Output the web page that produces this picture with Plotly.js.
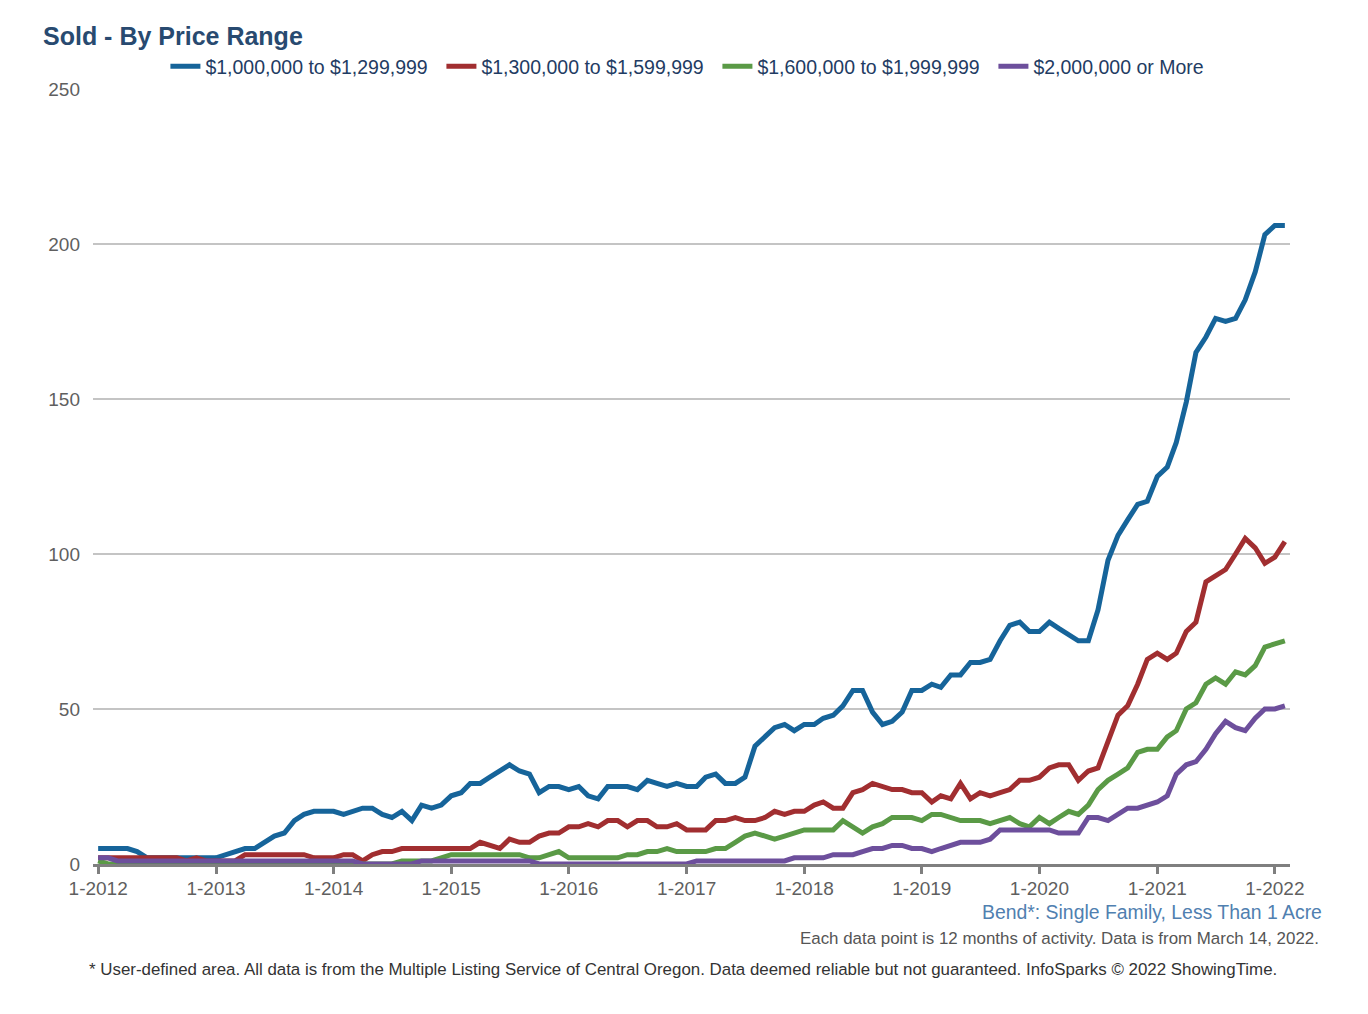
<!DOCTYPE html>
<html>
<head>
<meta charset="utf-8">
<script src="https://cdn.plot.ly/plotly-3.0.1.min.js"></script>
<style>
html,body{margin:0;padding:0;background:#ffffff;}
#chart{width:1368px;height:1014px;}
</style>
</head>
<body>
<div id="chart"></div>
<script>
// Months (x categories), Jan 2012 .. Feb 2022
const months = [
  '2012-01-01','2012-02-01','2012-03-01','2012-04-01','2012-05-01','2012-06-01','2012-07-01','2012-08-01','2012-09-01','2012-10-01','2012-11-01','2012-12-01',
  '2013-01-01','2013-02-01','2013-03-01','2013-04-01','2013-05-01','2013-06-01','2013-07-01','2013-08-01','2013-09-01','2013-10-01','2013-11-01','2013-12-01',
  '2014-01-01','2014-02-01','2014-03-01','2014-04-01','2014-05-01','2014-06-01','2014-07-01','2014-08-01','2014-09-01','2014-10-01','2014-11-01','2014-12-01',
  '2015-01-01','2015-02-01','2015-03-01','2015-04-01','2015-05-01','2015-06-01','2015-07-01','2015-08-01','2015-09-01','2015-10-01','2015-11-01','2015-12-01',
  '2016-01-01','2016-02-01','2016-03-01','2016-04-01','2016-05-01','2016-06-01','2016-07-01','2016-08-01','2016-09-01','2016-10-01','2016-11-01','2016-12-01',
  '2017-01-01','2017-02-01','2017-03-01','2017-04-01','2017-05-01','2017-06-01','2017-07-01','2017-08-01','2017-09-01','2017-10-01','2017-11-01','2017-12-01',
  '2018-01-01','2018-02-01','2018-03-01','2018-04-01','2018-05-01','2018-06-01','2018-07-01','2018-08-01','2018-09-01','2018-10-01','2018-11-01','2018-12-01',
  '2019-01-01','2019-02-01','2019-03-01','2019-04-01','2019-05-01','2019-06-01','2019-07-01','2019-08-01','2019-09-01','2019-10-01','2019-11-01','2019-12-01',
  '2020-01-01','2020-02-01','2020-03-01','2020-04-01','2020-05-01','2020-06-01','2020-07-01','2020-08-01','2020-09-01','2020-10-01','2020-11-01','2020-12-01',
  '2021-01-01','2021-02-01','2021-03-01','2021-04-01','2021-05-01','2021-06-01','2021-07-01','2021-08-01','2021-09-01','2021-10-01','2021-11-01','2021-12-01',
  '2022-01-01','2022-02-01'
];

const seriesNames = [
  '$1,000,000 to $1,299,999',
  '$1,300,000 to $1,599,999',
  '$1,600,000 to $1,999,999',
  '$2,000,000 or More'
];

const sold1000to1299 = [
  5,5,5,5,4,2,2,2,2,2,2,2,
  2,3,4,5,5,7,9,10,14,16,17,17,
  17,16,17,18,18,16,15,17,14,19,18,19,
  22,23,26,26,28,30,32,30,29,23,25,25,
  24,25,22,21,25,25,25,24,27,26,25,26,
  25,25,28,29,26,26,28,38,41,44,45,43,
  45,45,47,48,51,56,56,49,45,46,49,56,
  56,58,57,61,61,65,65,66,72,77,78,75,
  75,78,76,74,72,72,82,98,106,111,116,117,
  125,128,136,149,165,170,176,175,176,182,191,203,
  206,206
];

const sold1300to1599 = [
  2,2,2,2,2,2,2,2,2,1,2,1,
  1,1,1,3,3,3,3,3,3,3,2,2,
  2,3,3,1,3,4,4,5,5,5,5,5,
  5,5,5,7,6,5,8,7,7,9,10,10,
  12,12,13,12,14,14,12,14,14,12,12,13,
  11,11,11,14,14,15,14,14,15,17,16,17,
  17,19,20,18,18,23,24,26,25,24,24,23,
  23,20,22,21,26,21,23,22,23,24,27,27,
  28,31,32,32,27,30,31,40,48,51,58,66,
  68,66,68,75,78,91,93,95,100,105,102,97,
  99,104
];

const sold1600to1999 = [
  1,0,0,0,0,0,0,0,0,0,0,0,
  0,0,0,0,0,0,0,0,0,0,0,0,
  0,0,0,0,0,0,0,1,1,1,1,2,
  3,3,3,3,3,3,3,3,2,2,3,4,
  2,2,2,2,2,2,3,3,4,4,5,4,
  4,4,4,5,5,7,9,10,9,8,9,10,
  11,11,11,11,14,12,10,12,13,15,15,15,
  14,16,16,15,14,14,14,13,14,15,13,12,
  15,13,15,17,16,19,24,27,29,31,36,37,
  37,41,43,50,52,58,60,58,62,61,64,70,
  71,72
];

const sold2000plus = [
  2,2,1,1,1,1,1,1,1,1,1,1,
  1,1,1,1,1,1,1,1,1,1,1,1,
  1,1,1,0,0,0,0,0,0,1,1,1,
  1,1,1,1,1,1,1,1,1,0,0,0,
  0,0,0,0,0,0,0,0,0,0,0,0,
  0,1,1,1,1,1,1,1,1,1,1,2,
  2,2,2,3,3,3,4,5,5,6,6,5,
  5,4,5,6,7,7,7,8,11,11,11,11,
  11,11,10,10,10,15,15,14,16,18,18,19,
  20,22,29,32,33,37,42,46,44,43,47,50,
  50,51
];

const seriesValues = [sold1000to1299, sold1300to1599, sold1600to1999, sold2000plus];
const seriesColors = ['#16649a', '#a12e30', '#5a9a46', '#6d4f9c'];

const FONT = '"Liberation Sans", Arial, Helvetica, sans-serif';

const traces = seriesValues.map((vals, i) => ({
  type: 'scatter',
  mode: 'lines',
  name: seriesNames[i],
  x: months,
  y: vals,
  line: {color: seriesColors[i], width: 5, shape: 'linear'},
  hoverinfo: 'skip'
}));

const layout = {
  width: 1368,
  height: 1014,
  paper_bgcolor: '#ffffff',
  plot_bgcolor: '#ffffff',
  font: {family: FONT, color: '#5a5a5a'},
  margin: {l: 93, r: 78, t: 89, b: 150, pad: 0},
  showlegend: true,
  title: {
    text: '<b>Sold - By Price Range</b>',
    font: {family: FONT, size: 25, color: '#284a70'},
    xref: 'container', yref: 'container',
    x: 43 / 1368, xanchor: 'left',
    y: 1 - 36 / 1014, yanchor: 'middle'
  },
  legend: {
    orientation: 'h',
    x: 0.0605, xanchor: 'left',
    y: 1.029, yanchor: 'middle',
    font: {family: FONT, size: 19.5, color: '#1f3c63'},
    bgcolor: 'rgba(0,0,0,0)',
    itemwidth: 30,
    entrywidth: 231,
    entrywidthmode: 'pixels',
    traceorder: 'normal'
  },
  xaxis: {
    type: 'date',
    range: ['2011-12-16', '2022-02-17'],
    tick0: '2012-01-01',
    dtick: 'M12',
    tickformat: '%-m-%Y',
    ticks: 'outside',
    ticklen: 7,
    tickwidth: 3,
    tickcolor: '#7f7f7f',
    showline: true,
    linecolor: '#7f7f7f',
    linewidth: 3,
    showgrid: false,
    zeroline: false,
    tickfont: {family: FONT, size: 19, color: '#5f5f5f'},
    ticklabelstandoff: -2,
    fixedrange: true
  },
  yaxis: {
    range: [0, 250],
    tick0: 0,
    dtick: 50,
    showgrid: true,
    gridcolor: '#c4c4c4',
    gridwidth: 1.3,
    zeroline: false,
    showline: false,
    ticks: '',
    tickfont: {family: FONT, size: 19, color: '#5f5f5f'},
    ticklabelstandoff: 12,
    fixedrange: true
  },
  annotations: [
    {
      text: 'Bend*: Single Family, Less Than 1 Acre',
      xref: 'paper', yref: 'paper',
      x: (1324 - 93) / 1197, xanchor: 'right',
      y: (864 - 912) / 775, yanchor: 'middle',
      showarrow: false,
      font: {family: FONT, size: 19.4, color: '#5080b0'}
    },
    {
      text: 'Each data point is 12 months of activity. Data is from March 14, 2022.',
      xref: 'paper', yref: 'paper',
      x: (1321 - 93) / 1197, xanchor: 'right',
      y: (864 - 938) / 775, yanchor: 'middle',
      showarrow: false,
      font: {family: FONT, size: 16.9, color: '#555555'}
    },
    {
      text: '* User-defined area. All data is from the Multiple Listing Service of Central Oregon. Data deemed reliable but not guaranteed. InfoSparks © 2022 ShowingTime.',
      xref: 'paper', yref: 'paper',
      x: (682.5 - 93) / 1197, xanchor: 'center',
      y: (864 - 969) / 775, yanchor: 'middle',
      showarrow: false,
      font: {family: FONT, size: 16.9, color: '#333333'}
    }
  ]
};

Plotly.newPlot('chart', traces, layout, {displayModeBar: false, staticPlot: true});
</script>
</body>
</html>
